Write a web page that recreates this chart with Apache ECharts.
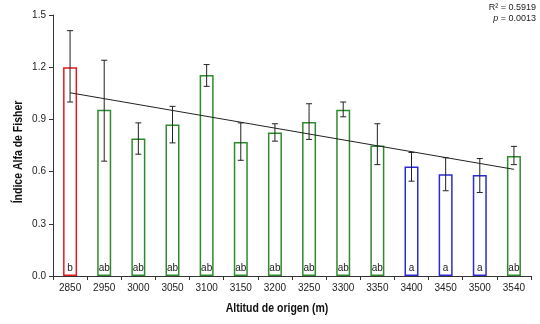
<!DOCTYPE html>
<html>
<head>
<meta charset="utf-8">
<script src="https://cdn.jsdelivr.net/npm/echarts@6/dist/echarts.min.js"></script>
<style>
  html, body { margin: 0; padding: 0; background: #fff; }
  #chart { width: 540px; height: 324px; }
</style>
</head>
<body>
<div id="chart"></div>
<script>
// altitudes (categories)
var altitudes = ['2850', '2950', '3000', '3050', '3100', '3150', '3200', '3250', '3300', '3350', '3400', '3450', '3500', '3540'];
// mean Fisher alpha
var alphaMean = [1.20, 0.955, 0.79, 0.87, 1.155, 0.77, 0.825, 0.885, 0.955, 0.75, 0.63, 0.585, 0.58, 0.69];
// error bar bounds
var errLow  = [1.00, 0.66, 0.70, 0.765, 1.09, 0.665, 0.775, 0.785, 0.915, 0.64, 0.545, 0.49, 0.48, 0.64];
var errHigh = [1.41, 1.24, 0.88, 0.975, 1.215, 0.88, 0.875, 0.99, 1.00, 0.875, 0.71, 0.68, 0.675, 0.745];
// Tukey letters and group
var letters = ['b', 'ab', 'ab', 'ab', 'ab', 'ab', 'ab', 'ab', 'ab', 'ab', 'a', 'a', 'a', 'ab'];
var groupColor = { 'b': '#e41a1c', 'ab': '#2e8b2e', 'a': '#2b2bd6' };
// linear trend endpoints (first / last altitude)
var trendEnds = [1.053, 0.613];

var xTitle = 'Altitud de origen (m)';
var yTitle = 'Índice Alfa de Fisher';

var chart = echarts.init(document.getElementById('chart'));

var barData = alphaMean.map(function (v, i) {
    return {
        value: v,
        itemStyle: { color: '#fff', borderColor: groupColor[letters[i]], borderWidth: 1.5 },
        label: { formatter: letters[i] }
    };
});

var errData = altitudes.map(function (a, i) { return [i, errLow[i], errHigh[i]]; });

// titles are drawn condensed (the original uses a narrow bold face)
var titleFont = { fontFamily: 'Liberation Sans', fontWeight: 'bold', fontSize: 12.5, fill: '#111' };

var option = {
    animation: false,
    grid: { left: 53, right: 9, top: 15, bottom: 48 },
    xAxis: {
        type: 'category',
        data: altitudes,
        axisLine: { lineStyle: { color: '#333', width: 1 } },
        axisTick: { show: true, length: 4, lineStyle: { color: '#333' } },
        axisLabel: { color: '#222', fontSize: 10, fontFamily: 'Liberation Sans', margin: 7 }
    },
    yAxis: {
        type: 'value',
        min: 0, max: 1.5, interval: 0.3,
        axisLine: { show: true, lineStyle: { color: '#333', width: 1 } },
        axisTick: { show: true, length: 4, lineStyle: { color: '#333' } },
        splitLine: { show: false },
        axisLabel: {
            color: '#222', fontSize: 10, fontFamily: 'Liberation Sans', margin: 7,
            formatter: function (v) { return v.toFixed(1); }
        }
    },
    graphic: [{
        type: 'text', x: 277, y: 309, scaleX: 0.84,
        style: Object.assign({ text: xTitle, align: 'center', verticalAlign: 'middle' }, titleFont)
    }, {
        type: 'text', x: 19, y: 152, rotation: Math.PI / 2, scaleX: 0.84,
        style: Object.assign({ text: yTitle, align: 'center', verticalAlign: 'middle' }, titleFont)
    }, {
        type: 'text', right: 4, top: 3,
        style: {
            text: 'R² = 0.5919', fontSize: 9, fontFamily: 'Liberation Sans', fill: '#222', align: 'right'
        }
    }, {
        type: 'text', right: 4, top: 14,
        style: {
            rich: { i: { fontStyle: 'italic', fontSize: 9, fontFamily: 'Liberation Sans', fill: '#222' } },
            text: '{i|p} = 0.0013', fontSize: 9, fontFamily: 'Liberation Sans', fill: '#222', align: 'right'
        }
    }],
    series: [{
        type: 'bar',
        data: barData,
        barWidth: 14,
        label: {
            show: true, position: 'insideBottom', distance: 3,
            color: '#222', fontSize: 10, fontFamily: 'Liberation Sans'
        },
        z: 2
    }, {
        type: 'custom',
        data: errData,
        z: 5,
        renderItem: function (params, api) {
            var lo = api.coord([api.value(0), api.value(1)]);
            var hi = api.coord([api.value(0), api.value(2)]);
            var cap = 3;
            var st = { stroke: '#222', lineWidth: 1 };
            return {
                type: 'group',
                children: [
                    { type: 'line', shape: { x1: lo[0], y1: lo[1], x2: hi[0], y2: hi[1] }, style: st },
                    { type: 'line', shape: { x1: lo[0] - cap, y1: lo[1], x2: lo[0] + cap, y2: lo[1] }, style: st },
                    { type: 'line', shape: { x1: hi[0] - cap, y1: hi[1], x2: hi[0] + cap, y2: hi[1] }, style: st }
                ]
            };
        }
    }, {
        type: 'line',
        data: [[altitudes[0], trendEnds[0]], [altitudes[altitudes.length - 1], trendEnds[1]]],
        symbol: 'none',
        lineStyle: { color: '#222', width: 1 },
        z: 4
    }]
};

chart.setOption(option);
</script>
</body>
</html>
